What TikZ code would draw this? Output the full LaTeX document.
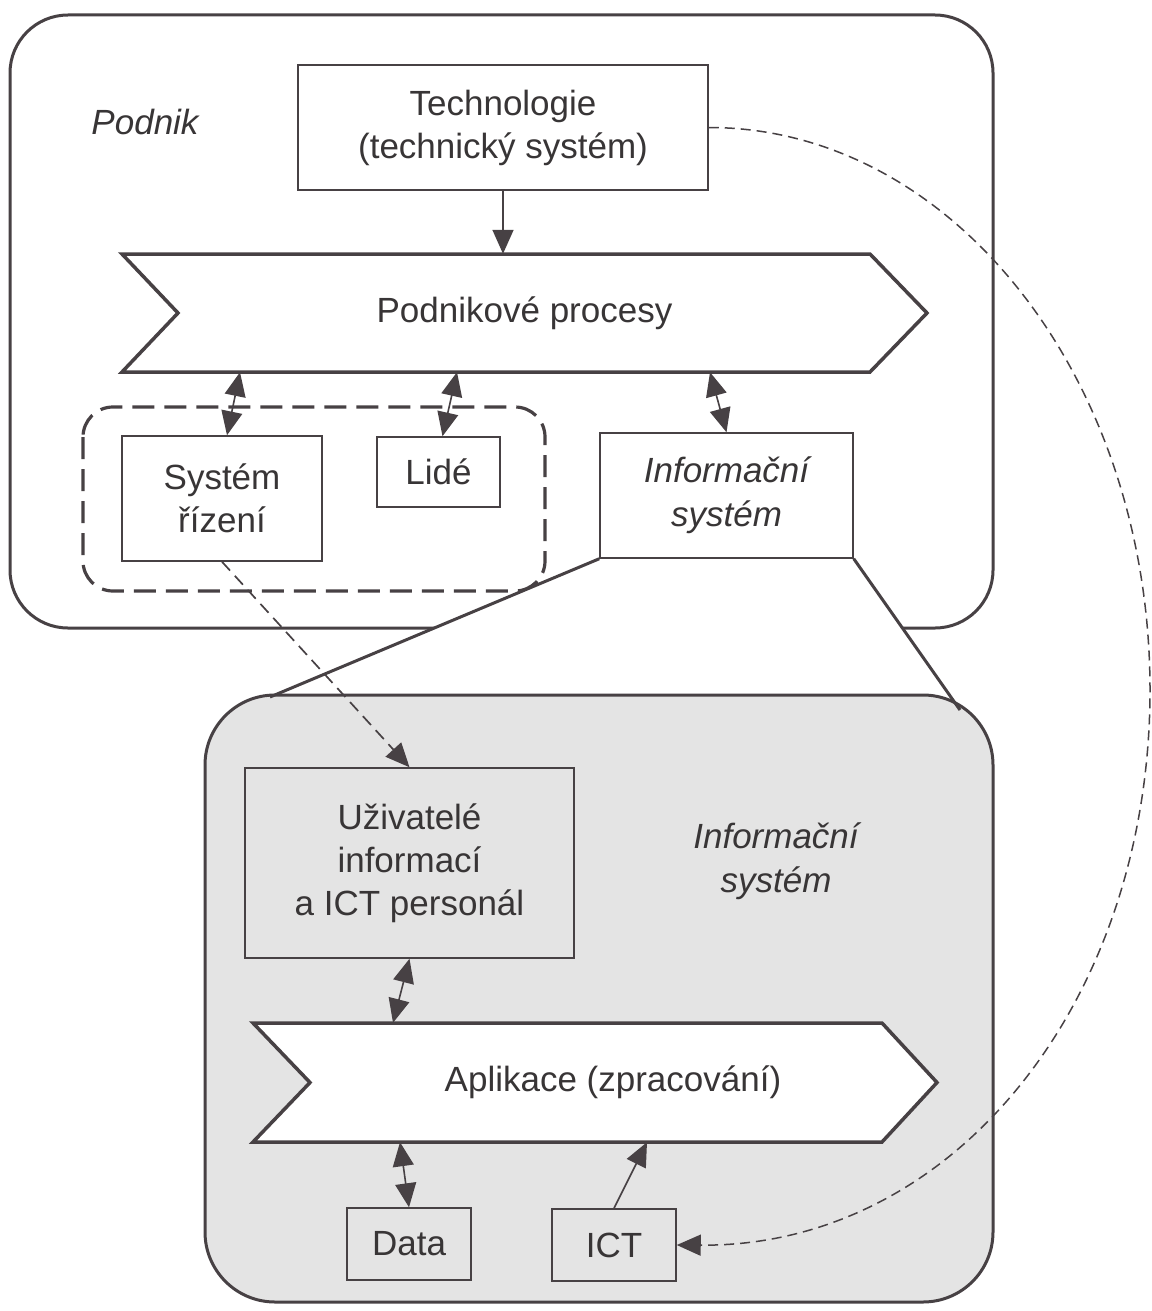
\documentclass[tikz,border=0pt]{standalone}
\usepackage{fontspec}
\setmainfont{Liberation Sans}
\usetikzlibrary{arrows.meta,calc}
\definecolor{ink}{HTML}{474144}
\definecolor{txt}{HTML}{383536}
\definecolor{shade}{HTML}{E4E4E4}

\begin{document}
\begin{tikzpicture}[x=1pt,y=-1pt,
  every node/.style={text=txt, inner sep=0pt, align=center,
    font=\fontsize{35}{43}\selectfont},
  ital/.style={font=\fontsize{35}{44}\selectfont\itshape},
  frame/.style={draw=ink, line width=3pt},
  box/.style={draw=ink, line width=1.5pt},
  chev/.style={draw=ink, line width=3.5pt, fill=white, line join=miter},
  head/.tip={Triangle[length=24pt,width=21pt]},
  tip/.style={-head},
  arr/.style={draw=ink, line width=1.6pt, tip},
  dbl/.style={draw=ink, line width=1.6pt, head-head},
  thindash/.style={dash pattern=on 12pt off 7pt, line width=1.7pt},
  arcdash/.style={draw=ink, line width=1.5pt, dash pattern=on 10pt off 6pt, tip}]

\useasboundingbox (0,0) rectangle (1151,1311);

% enterprise frame
\draw[frame, fill=white, rounded corners=58pt] (10,15) rectangle (993,628);

% management + people group
\draw[ink, line width=3.2pt, dash pattern=on 22pt off 10pt, rounded corners=30pt]
  (83,407) rectangle (545,591);

% funnel background (covers the frame below the IS box)
\fill[white] (600,558) -- (853,558) -- (960,710) -- (270,697) -- cycle;

% information system detail frame
\draw[frame, fill=shade, rounded corners=70pt] (205,695) rectangle (993,1302);

% chevrons
\draw[chev] (122,254) -- (870,254) -- (927,313) -- (870,372) -- (122,372) -- (178,313) -- cycle;
\draw[chev] (253,1023) -- (882,1023) -- (937,1082.5) -- (882,1142) -- (253,1142) -- (310,1082.5) -- cycle;

% upper part
\node[ital] (podnik) at (145,122) {Podnik};
\node[box, minimum width=410pt, minimum height=125pt] (tech) at (503,127.5)
  {Technologie\\(technický systém)};
\node[minimum width=805pt, minimum height=118pt] (proc) at (524.5,313) {Podnikové procesy};
\node[box, minimum width=200pt, minimum height=125pt] (sysr) at (222,498.5) {Systém\\řízení};
\node[box, minimum width=123pt, minimum height=70pt] (lide) at (438.5,472) {Lidé};
\node[box, fill=white, minimum width=253pt, minimum height=125pt, ital] (is1) at (726.5,495.5)
  {Informační\\systém};

% funnel sides
\draw[ink, line width=3pt] (is1.south west) -- (270,697);
\draw[ink, line width=3pt] (is1.south east) -- (960,710);

% lower part
\node[box, minimum width=329pt, minimum height=190pt] (user) at (409.5,863)
  {Uživatelé\\informací\\a ICT personál};
\node[ital] (is2) at (776,861) {Informační\\systém};
\node[minimum width=684pt, minimum height=119pt] (app) at (595,1082.5) {\hspace*{36pt}Aplikace (zpracování)};
\node[box, minimum width=124pt, minimum height=72pt] (data) at (409,1244) {Data};
\node[box, minimum width=124pt, minimum height=72pt] (ict) at (614,1245) {ICT};

% connectors
\draw[arr] (tech.south) -- (tech.south |- proc.north);
\draw[dbl] ($(proc.south)+(-284.5,0)$) -- ($(sysr.north)+(5,0)$);
\draw[dbl] ($(proc.south)+(-67.5,0)$) -- ($(lide.north)+(4,0)$);
\draw[dbl] ($(proc.south)+(185.5,0)$) -- (is1.north);
\draw[arr, thindash] (sysr.south) -- (user.north);
\draw[dbl] (user.south) -- ($(app.north)+(-202,0)$);
\draw[dbl] ($(app.south)+(-195,0)$) -- (data.north);
\draw[arr] (ict.north) -- ($(app.south)+(52,0)$);

% technology link to ICT
\coordinate (far) at (1150,690);
\draw[arcdash] (tech.east) .. controls ($(tech.east)+(245,0)$) and ($(far)+(0,-310)$) .. (far)
  .. controls ($(far)+(0,310)$) and (955,1247) .. (ict.east);

\end{tikzpicture}
\end{document}
